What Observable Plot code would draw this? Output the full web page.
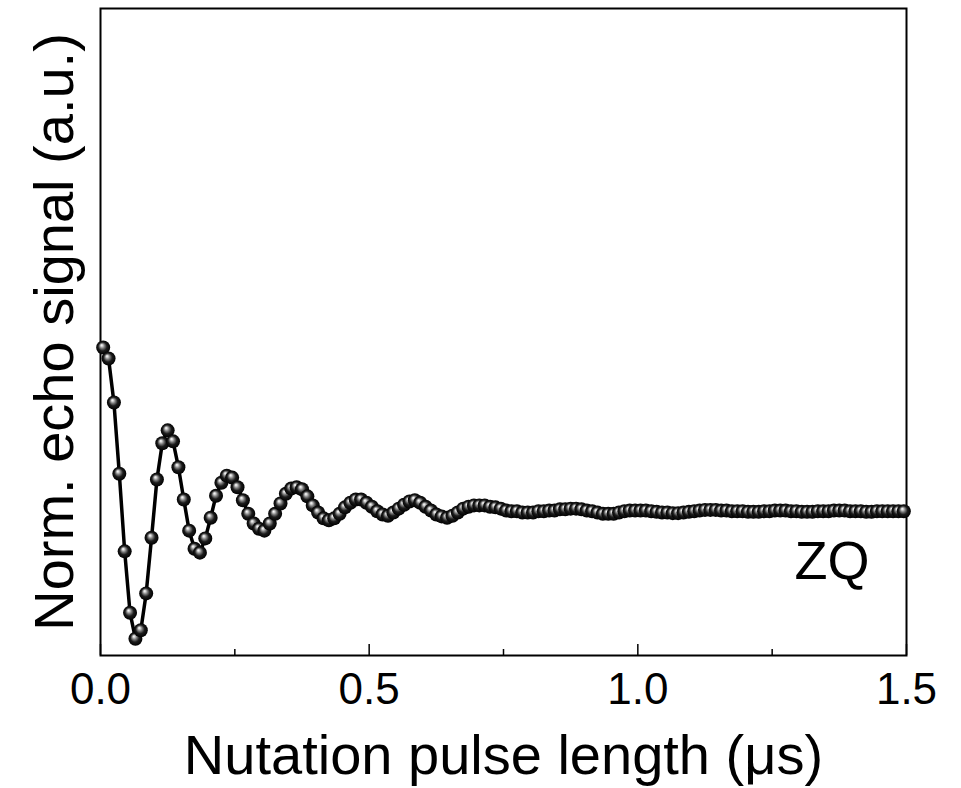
<!DOCTYPE html>
<html>
<head>
<meta charset="utf-8">
<script src="https://cdn.jsdelivr.net/npm/d3@7"></script>
<script src="https://cdn.jsdelivr.net/npm/@observablehq/plot@0.6"></script>
<style>
  body { margin: 0; background: #fff; }
  #chart svg { display: block; }
</style>
</head>
<body>
<svg width="0" height="0" style="position:absolute">
  <defs>
    <radialGradient id="ball" cx="0.5" cy="0.5" r="0.5" fx="0.38" fy="0.32">
      <stop offset="0" stop-color="#ffffff"/>
      <stop offset="0.14" stop-color="#d8d8d8"/>
      <stop offset="0.36" stop-color="#7a7a7a"/>
      <stop offset="0.62" stop-color="#1c1c1c"/>
      <stop offset="1" stop-color="#000000"/>
    </radialGradient>
  </defs>
</svg>
<div id="chart"></div>
<script>
// pulse length (µs)
const times = [
  0.005,0.015,0.025,0.035,0.045,0.055,0.065,0.075,0.085,0.095,
  0.105,0.115,0.125,0.135,0.145,0.155,0.165,0.175,0.185,0.195,
  0.205,0.215,0.225,0.235,0.245,0.255,0.265,0.275,0.285,0.295,
  0.305,0.315,0.325,0.335,0.345,0.355,0.365,0.375,0.385,0.395,
  0.405,0.415,0.425,0.435,0.445,0.455,0.465,0.475,0.485,0.495,
  0.505,0.515,0.525,0.535,0.545,0.555,0.565,0.575,0.585,0.595,
  0.605,0.615,0.625,0.635,0.645,0.655,0.665,0.675,0.685,0.695,
  0.705,0.715,0.725,0.735,0.745,0.755,0.765,0.775,0.785,0.795,
  0.805,0.815,0.825,0.835,0.845,0.855,0.865,0.875,0.885,0.895,
  0.905,0.915,0.925,0.935,0.945,0.955,0.965,0.975,0.985,0.995,
  1.005,1.015,1.025,1.035,1.045,1.055,1.065,1.075,1.085,1.095,
  1.105,1.115,1.125,1.135,1.145,1.155,1.165,1.175,1.185,1.195,
  1.205,1.215,1.225,1.235,1.245,1.255,1.265,1.275,1.285,1.295,
  1.305,1.315,1.325,1.335,1.345,1.355,1.365,1.375,1.385,1.395,
  1.405,1.415,1.425,1.435,1.445,1.455,1.465,1.475,1.485,1.495
];
// normalized echo signal (a.u.)
const signal = [
  47.6,45.9,39.1,28.1,16.1,6.6,2.6,3.9,9.6,18.2,
  27.2,32.8,34.8,33.1,29.1,24.1,19.3,16.5,15.9,18.1,
  21.3,24.7,26.7,27.8,27.5,26.0,24.0,21.9,20.4,19.6,
  19.3,20.4,21.9,23.5,25.0,25.8,26.0,25.7,24.6,23.2,
  22.1,21.2,20.9,21.2,21.9,22.9,23.6,24.1,24.1,23.6,
  23.0,22.3,21.8,21.6,22.1,22.7,23.3,23.8,24.0,23.6,
  23.0,22.4,21.8,21.5,21.3,21.6,22.1,22.7,23.0,23.2,
  23.2,23.2,23.0,22.9,22.7,22.4,22.3,22.3,22.1,22.1,
  22.1,22.3,22.3,22.4,22.4,22.6,22.6,22.7,22.7,22.6,
  22.4,22.3,22.1,21.9,21.9,21.9,22.1,22.3,22.4,22.4,
  22.4,22.4,22.3,22.2,22.1,22.1,22.0,22.0,22.1,22.2,
  22.3,22.4,22.5,22.5,22.5,22.4,22.4,22.3,22.3,22.3,
  22.2,22.2,22.2,22.3,22.3,22.4,22.4,22.4,22.3,22.3,
  22.2,22.2,22.2,22.3,22.3,22.3,22.4,22.4,22.4,22.3,
  22.3,22.3,22.2,22.2,22.3,22.3,22.3,22.3,22.3,22.3
];
const xTicks = [0, 0.5, 1.0, 1.5];
const xTickLabels = ["0.0", "0.5", "1.0", "1.5"];
const xMinorTicks = [0.25, 0.75, 1.25];
const xTitle = "Nutation pulse length (\u03bcs)";
const yTitle = "Norm. echo signal (a.u.)";
const seriesLabel = "ZQ";

const data = times.map((t, i) => ({t, v: signal[i]}));
const font = "'Liberation Sans', Arial, Helvetica, sans-serif";

const chart = Plot.plot({
  width: 961,
  height: 788,
  marginLeft: 100,
  marginRight: 55,
  marginTop: 8,
  marginBottom: 133,
  style: {background: "#fff", fontFamily: font, color: "#000"},
  x: {domain: [0, 1.5]},
  y: {domain: [0, 100], axis: null},
  marks: [
    Plot.frame({stroke: "#000", strokeWidth: 2}),
    Plot.tickX(xTicks, {x: d => d, stroke: "#000", strokeWidth: 1.5, insetTop: 636}),
    Plot.tickX(xMinorTicks, {x: d => d, stroke: "#000", strokeWidth: 1.5, insetTop: 641}),
    Plot.axisX({
      ticks: xTicks,
      tickFormat: d => xTickLabels[xTicks.indexOf(d)],
      tickSize: 0,
      tickPadding: 17,
      fontSize: 44,
      label: null
    }),
    Plot.text([xTitle], {text: d => d, frameAnchor: "bottom", dy: 118, lineAnchor: "bottom", fontSize: 56, fill: "#000"}),
    Plot.text([yTitle], {text: d => d, frameAnchor: "left", dx: -28, rotate: -90, textAnchor: "middle", lineAnchor: "bottom", fontSize: 56, fill: "#000"}),
    Plot.line(data, {x: "t", y: "v", stroke: "#000", strokeWidth: 3.5}),
    Plot.dot(data, {x: "t", y: "v", r: 7, fill: "url(#ball)", stroke: "none"}),
    Plot.text([seriesLabel], {text: d => d, frameAnchor: "bottom-right", dx: -37, dy: -77, textAnchor: "end", lineAnchor: "bottom", fontSize: 54, fill: "#000"})
  ]
});
document.getElementById("chart").appendChild(chart);
</script>
</body>
</html>
